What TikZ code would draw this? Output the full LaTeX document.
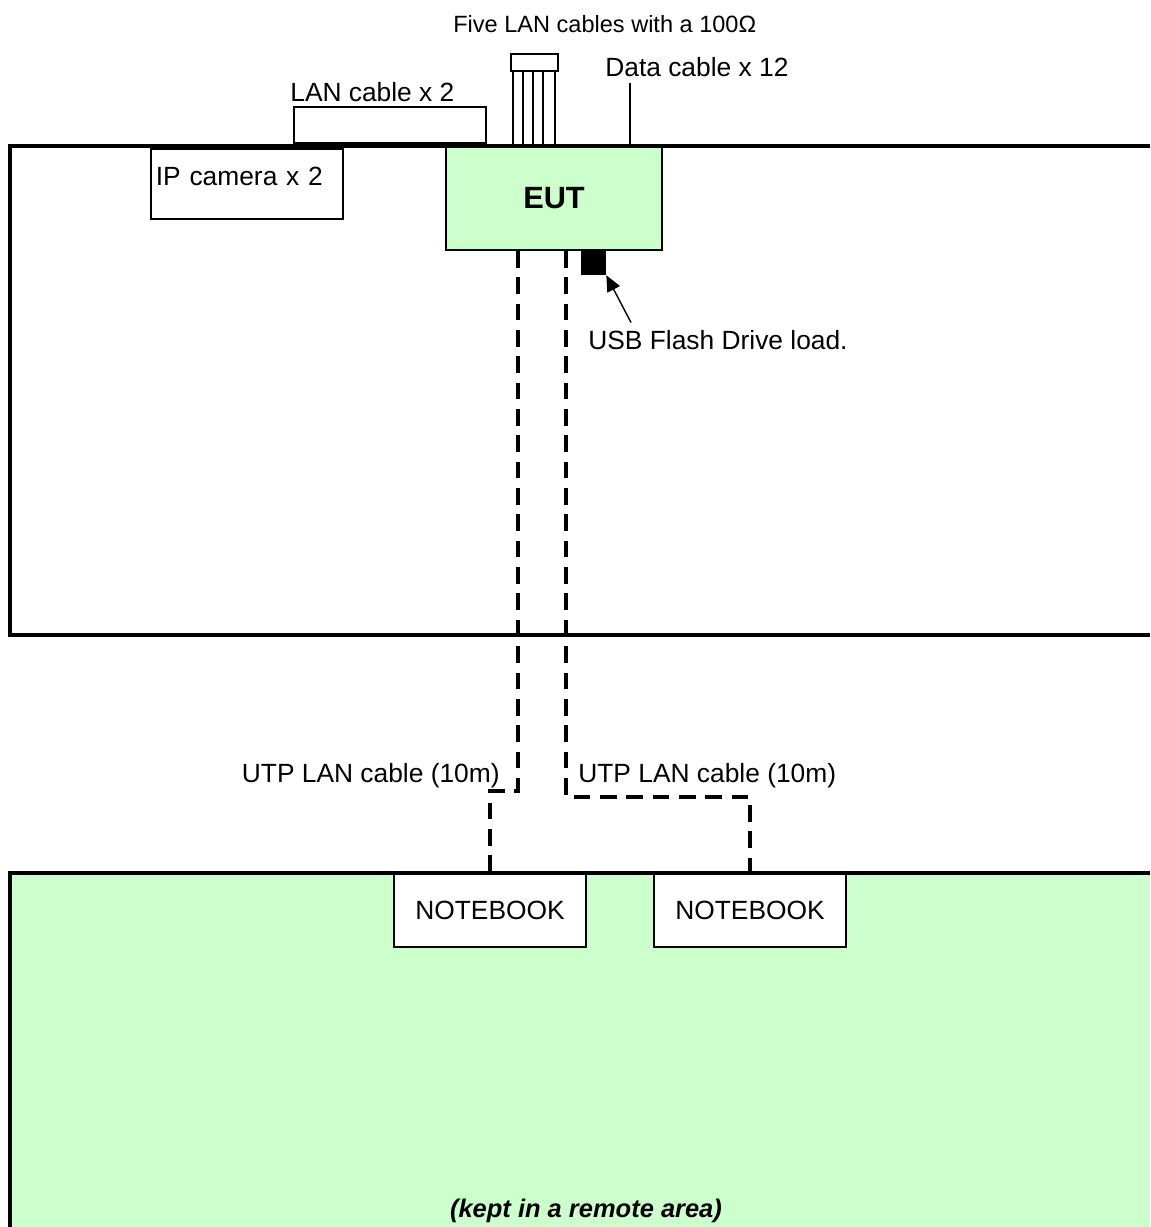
\documentclass[tikz,border=0pt]{standalone}
\usepackage{fontspec}
\setmainfont{Liberation Sans}
\usetikzlibrary{calc,arrows.meta}
\definecolor{eutgreen}{RGB}{204,255,204}

\begin{document}
\begin{tikzpicture}[x=0.02cm,y=-0.02cm,
		box/.style={draw,line width=1pt,fill=white,inner sep=0pt},
		wall/.style={line width=2.4pt},
		txt/.style={inner sep=0pt,anchor=base west,font=\fontsize{15}{18}\selectfont},
		utp/.style={line width=2.1pt,dash pattern=on 9.5pt off 5.5pt},
		pointer/.style={line width=0.8pt,-{Triangle[length=9pt,width=8pt]}}]
			\useasboundingbox (0,0) rectangle (1150,1227);
			\fill[eutgreen] (10,873) rectangle (1150,1227);
			\node[box,anchor=north west,inner xsep=0.1cm,text width=3.64cm,text height=0.74cm,text depth=0.66cm,align=left,font=\fontsize{15}{18}\selectfont] (cam) at (150,148) {IP camera x 2};
			\node[box,minimum width=3.84cm,minimum height=0.72cm] (lan) at (390,125) {};
			\node[txt] (lanlbl) at (290,101) {LAN cable x 2};
			\node[box,fill=eutgreen,minimum width=4.32cm,minimum height=2.06cm,font=\bfseries\fontsize{17.5}{20}\selectfont] (eut) at (554,198.5) {EUT};
			\node[box,minimum width=0.94cm,minimum height=0.34cm] (term) at (534.5,62.5) {};
			\node[txt,font=\fontsize{13.4}{16}\selectfont] (termlbl) at (453,32) {Five LAN cables with a 100Ω};
			\node[txt] (datalbl) at (605,76) {Data cable x 12};
			\coordinate (dataend) at (630,83);
			\node[fill=black,inner sep=0pt,minimum size=0.5cm] (usb) at (593.5,262.5) {};
			\node[txt] (usblbl) at (588,349) {USB Flash Drive load.};
			\node[box,minimum width=3.84cm,minimum height=1.48cm,font=\fontsize{15}{18}\selectfont] (nbA) at (490,910) {NOTEBOOK};
			\node[box,minimum width=3.84cm,minimum height=1.48cm,font=\fontsize{15}{18}\selectfont] (nbB) at (750,910) {NOTEBOOK};
			\node[txt,anchor=base east] (utpA) at (500,782) {UTP LAN cable (10m)};
			\node[txt] (utpB) at (578,782) {UTP LAN cable (10m)};
			\node[txt,anchor=base,font=\bfseries\itshape\fontsize{14.5}{17}\selectfont] (remote) at (586,1217) {(kept in a remote area)};
			\draw[wall] (1150,146) -| (10,635) -- (1150,635);
			\draw[wall] (1150,873) -| (10,1227);
			\foreach \dx in {3,13,23,33,45}{
				\path (term.south west) ++(\dx,0) coordinate (t);
				\draw[line width=1pt] (t) -- (t |- eut.north);
			}
			\draw[line width=1pt] (dataend) -- (dataend |- eut.north);
			\draw[pointer] (usblbl.north west) ++(43,-7) -- (usb.south east);
			\draw[utp] ($(eut.south west)+(73,0)$) -- ++(0,540) -| (nbA.north);
			\draw[utp] ($(eut.south west)+(121,0)$) -- ++(0,546) -| (nbB.north);
		\end{tikzpicture}
\end{document}
